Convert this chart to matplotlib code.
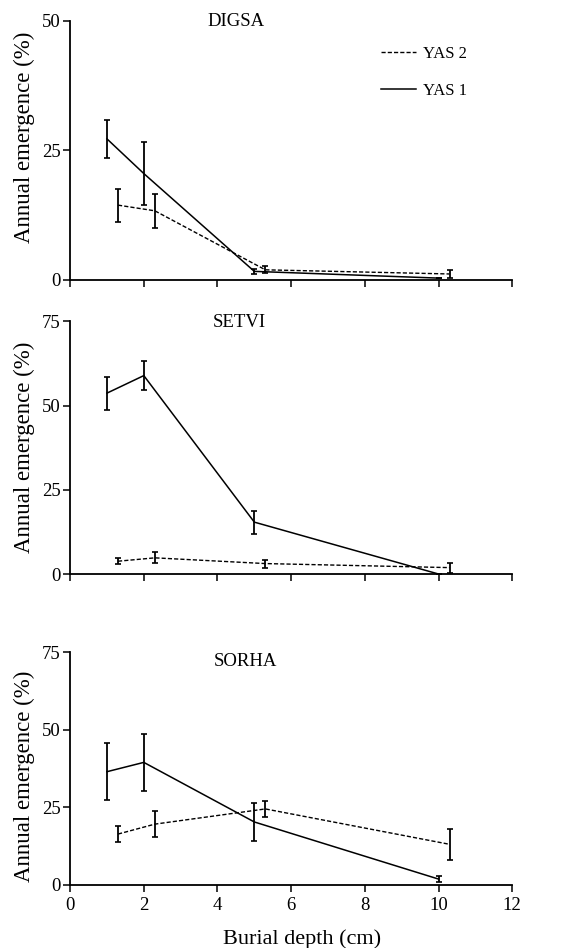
import matplotlib

matplotlib.use("Agg")

import matplotlib.pyplot as plt  # noqa: E402
from matplotlib.lines import Line2D  # noqa: E402

plt.rcParams["font.family"] = ["Liberation Serif", "DejaVu Serif"]
plt.rcParams["font.size"] = 13

# burial depths; YAS 2 is drawn slightly offset to the right
depth = [1, 2, 5, 10]
offset = 0.3

species = ["DIGSA", "SETVI", "SORHA"]

# YAS 1 (solid)
yas1_mean = {
    "DIGSA": [27.2, 20.5, 1.6, 0.3],
    "SETVI": [53.7, 58.9, 15.4, 0.0],
    "SORHA": [36.5, 39.5, 20.3, 1.9],
}
yas1_err = {
    "DIGSA": [3.6, 6.0, 0.5, 0.0],
    "SETVI": [4.9, 4.2, 3.4, 0.0],
    "SORHA": [9.1, 9.1, 6.0, 1.0],
}

# YAS 2 (dashed)
yas2_mean = {
    "DIGSA": [14.4, 13.3, 1.9, 1.1],
    "SETVI": [3.8, 4.8, 3.1, 1.9],
    "SORHA": [16.4, 19.6, 24.5, 13.1],
}
yas2_err = {
    "DIGSA": [3.2, 3.3, 0.7, 0.7],
    "SETVI": [0.9, 1.6, 1.2, 1.5],
    "SORHA": [2.7, 4.1, 2.6, 4.9],
}

y_max = {"DIGSA": 50, "SETVI": 75, "SORHA": 75}
title_pos = {"DIGSA": (4.5, 49.8), "SETVI": (4.6, 74.7), "SORHA": (4.75, 72.0)}
ylabel_y = {"DIGSA": 0.55, "SETVI": 0.5, "SORHA": 0.468}

# axes boxes in figure fractions [left, bottom, width, height]
boxes = [
    [0.125, 0.705, 0.788, 0.273],
    [0.125, 0.3945, 0.788, 0.2665],
    [0.125, 0.0665, 0.788, 0.2455],
]

dash = (0, (3, 1.5))

fig = plt.figure(figsize=(5.61, 9.48), dpi=100)

for i, (sp, box) in enumerate(zip(species, boxes)):
    ax = fig.add_axes(box)
    x2 = [d + offset for d in depth]
    ax.errorbar(x2, yas2_mean[sp], yerr=yas2_err[sp], color="black",
                lw=1.0, ls=dash, capsize=2.5, elinewidth=1.3, capthick=1.2)
    ax.errorbar(depth, yas1_mean[sp], yerr=yas1_err[sp], color="black",
                lw=1.1, ls="-", capsize=2.5, elinewidth=1.3, capthick=1.2)

    ax.set_xlim(0, 12)
    ax.set_ylim(0, y_max[sp])
    ax.set_xticks(range(0, 13, 2))
    ax.set_yticks(range(0, y_max[sp] + 1, 25))
    for s in ("top", "right"):
        ax.spines[s].set_visible(False)
    ax.spines["left"].set_linewidth(1.3)
    ax.spines["bottom"].set_linewidth(1.3)
    ax.tick_params(direction="out", length=5, width=1.1, labelsize=13.5, pad=2)
    ax.tick_params(axis="x", pad=4)
    ax.set_ylabel("Annual emergence (%)", fontsize=16.5)
    ax.yaxis.set_label_coords(-0.08, ylabel_y[sp])
    ax.text(*title_pos[sp], sp, ha="center", va="center", fontsize=13.5)

    if i < 2:
        ax.tick_params(axis="x", labelbottom=False)
    else:
        ax.set_xlabel("Burial depth (cm)", fontsize=16)
        ax.xaxis.set_label_coords(0.525, -0.19)

    if sp == "DIGSA":
        handles = [Line2D([], [], color="black", lw=1.0, ls=dash),
                   Line2D([], [], color="black", lw=1.1, ls="-")]
        ax.legend(handles, ["YAS 2", "YAS 1"], loc="upper left",
                  bbox_to_anchor=(0.703, 0.903), frameon=False, fontsize=12,
                  borderpad=0, borderaxespad=0, handlelength=2.1,
                  handletextpad=0.45, labelspacing=1.25)

fig.savefig("out.png", dpi=100)
